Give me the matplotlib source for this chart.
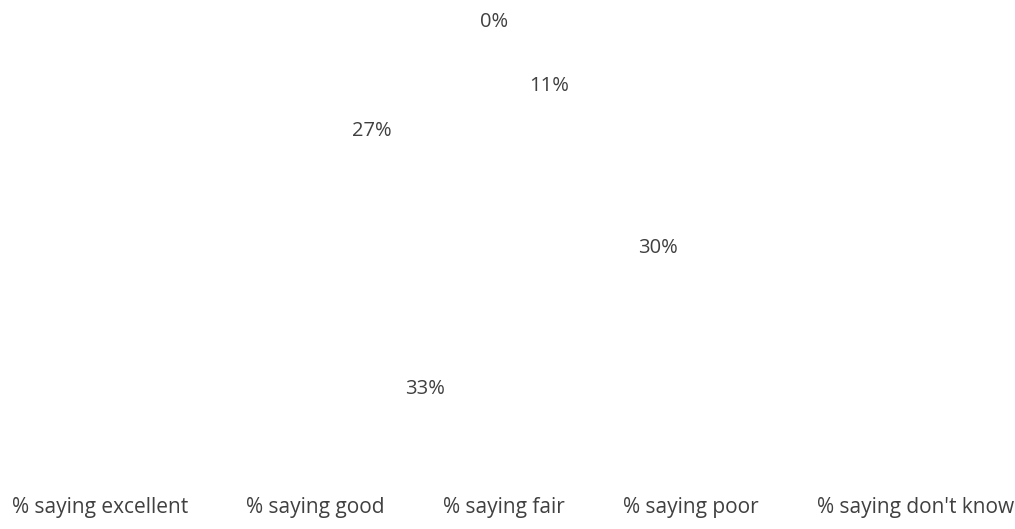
import matplotlib.pyplot as plt
import numpy as np

# data
categories = ["% saying excellent", "% saying good", "% saying fair",
              "% saying poor", "% saying don't know"]
values = [0, 11, 30, 33, 27]

plt.rcParams['font.family'] = ['Open Sans', 'DejaVu Sans']
text_color = '#404040'

fig = plt.figure(figsize=(10.15, 5.29), dpi=100)
ax = fig.add_axes([0.270, 0.130, 0.4335, 0.832])

# slices are white on white, only labels show
wedges, _ = ax.pie(values, colors=['white'] * len(values), startangle=90,
                   counterclock=False, radius=1.0,
                   wedgeprops=dict(edgecolor='white', linewidth=1))
ax.set_xlim(-1.1, 1.1)
ax.set_ylim(-1.1, 1.1)
ax.set_aspect('equal')
ax.axis('off')

for w, v in zip(wedges, values):
    ang = np.deg2rad((w.theta1 + w.theta2) / 2)
    r = 0.82 if v > 0 else 1.09
    ax.text(r * np.cos(ang), r * np.sin(ang), f"{v}%", ha='center', va='center',
            fontsize=14.5, color=text_color)

leg = fig.legend(wedges, categories, loc='center', bbox_to_anchor=(0.494, 0.040),
                 ncol=5, frameon=False, fontsize=15, labelcolor=text_color,
                 handlelength=0.7, handletextpad=0.4, columnspacing=1.7)

fig.savefig('out.png', dpi=100, facecolor='white')
